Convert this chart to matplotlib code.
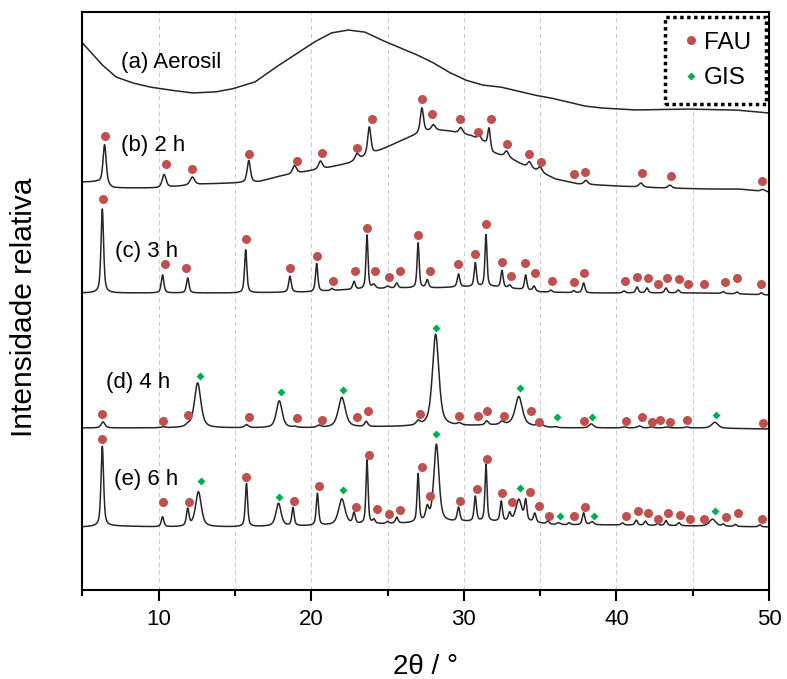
"""
DRX das amostras: Aerosil e produtos de 2 h a 6 h (FAU / GIS)
"""

import numpy as np
import matplotlib
matplotlib.use('Agg')  # sem display
import matplotlib.pyplot as plt
from matplotlib.lines import Line2D
from matplotlib.ticker import MultipleLocator

plt.rcParams['font.family'] = ['Liberation Sans', 'DejaVu Sans']

# ---- (a) Aerosil: curva amorfa (2theta, intensidade)
a_theta = [5.0, 5.6, 6.3, 7.2, 8.3, 9.4, 10.7, 12.2, 13.7, 14.8, 16.3, 17.6, 18.9,
           20.2, 21.3, 22.4, 23.5, 24.6, 25.7, 26.8, 27.9, 29.0, 30.1, 31.2, 32.4,
           33.5, 34.6, 35.7, 36.8, 37.9, 39.0, 41.2, 44.5, 47.8, 50.0]
a_int = [547, 537, 525, 513, 507, 503, 500, 497, 498, 501, 508, 522, 535,
         548, 557, 560, 558, 550, 543, 536, 528, 518, 510, 505, 503,
         499, 495, 492, 488, 484, 482, 480, 481, 480, 477]

# ---- (b) 2 h
b_base_theta = [5.0, 6.0, 7.0, 10.0, 13.0, 15.0, 16.5, 18.0, 19.5, 21.0, 22.5, 23.5,
                25.0, 26.0, 27.0, 28.0, 29.0, 30.5, 31.0, 31.4, 31.9, 33.0, 34.0,
                35.0, 36.0, 37.5, 40.0, 43.0, 46.0, 48.0, 50.0]
b_base_int = [408, 408, 402, 402, 406, 407, 408, 414, 418, 422, 427, 433,
              443, 450, 456, 460, 459, 454, 450, 447, 437, 432, 424,
              418, 411, 406, 404, 402, 401, 401, 398]
b_peak_pos = [6.45, 10.35, 12.2, 15.9, 18.9, 20.6, 23.0, 23.8, 27.25, 28.0, 29.8,
              31.0, 31.65, 32.8, 34.3, 35.0, 38.0, 41.6, 43.5, 49.6]
b_peak_h = [40, 13, 8, 22, 8, 8, 6, 28, 25, 5, 6, 5, 20, 6, 6, 5, 4, 4, 3, 2]
b_peak_w = [0.25, 0.3, 0.35, 0.25, 0.3, 0.3, 0.3, 0.25, 0.25, 0.3, 0.3,
            0.25, 0.2, 0.3, 0.3, 0.3, 0.3, 0.3, 0.3, 0.3]
b_fau_theta = [6.45, 10.45, 12.15, 15.9, 19.05, 20.7, 23.0, 24.0, 27.25, 27.9, 29.75,
               30.9, 31.8, 32.8, 34.3, 35.05, 37.2, 37.95, 41.7, 43.6, 49.55]
b_fau_int = [454, 426, 421, 436, 429, 437, 442, 471, 491, 476, 471,
             458, 471, 446, 436, 428, 416, 418, 417, 414, 409]

# ---- (c) 3 h
c_base_theta = [5, 6, 8, 15, 20, 22, 24, 26, 28, 30, 32, 33.5, 35, 38, 42, 46, 50]
c_base_int = [297, 297, 297, 297, 298, 300, 301, 302, 302, 303, 303, 301, 298,
              297, 297, 297, 295]
c_peak_pos = [6.3, 10.25, 11.9, 15.7, 18.6, 20.35, 21.35, 22.8, 23.65, 24.1, 25.0,
              25.6, 27.0, 27.6, 29.65, 30.75, 31.45, 32.5, 33.0, 34.05, 34.6, 35.7,
              37.2, 37.85, 40.5, 41.35, 42.0, 43.25, 44.05, 47.0, 47.9, 49.5]
c_peak_h = [84, 18, 15, 43, 16, 28, 2, 8, 54, 4, 2, 5, 45, 8, 13, 24, 52, 17, 3,
            15, 5, 2, 2, 10, 2, 6, 5, 5, 3, 2, 2, 2]
c_peak_w = [0.2, 0.2, 0.2, 0.18, 0.2, 0.18, 0.2, 0.2, 0.16, 0.25, 0.3, 0.2, 0.16,
            0.2, 0.2, 0.18, 0.16, 0.18, 0.2, 0.18, 0.2, 0.2, 0.2, 0.2, 0.2, 0.2,
            0.2, 0.2, 0.2, 0.2, 0.2, 0.2]
c_fau_theta = [6.35, 10.4, 11.8, 15.75, 18.6, 20.4, 21.4, 22.85, 23.65, 24.2, 25.1,
               25.8, 27.0, 27.8, 29.6, 30.7, 31.45, 32.5, 33.1, 34.0, 34.65, 35.75,
               37.2, 37.9, 40.55, 41.35, 42.05, 42.75, 43.3, 44.1, 44.7, 45.75,
               47.1, 47.9, 49.5]
c_fau_int = [391, 326, 322, 351, 322, 334, 309, 319, 362, 319, 313,
             319, 355, 319, 326, 336, 366, 328, 314, 327, 317, 309,
             308, 317, 309, 313, 312, 306, 312, 311, 306, 306,
             308, 312, 306]

# ---- (d) 4 h
d_base_theta = [5, 10, 20, 24, 30, 33, 36, 40, 45, 50]
d_base_int = [162, 162, 162, 163, 164, 165, 162, 162, 162, 161]
d_peak_pos = [6.35, 10.3, 11.9, 12.55, 15.75, 17.9, 18.9, 20.5, 22.0, 23.6, 27.0,
              28.15, 29.7, 31.5, 32.5, 33.6, 35.0, 36.0, 38.35, 40.5, 41.5, 42.3,
              43.3, 44.6, 46.45]
d_peak_h = [6, 1, 2, 45, 3, 27, 1, 2, 30, 5, 4, 92, 2, 4, 3, 29, 3, 1, 4, 1, 2,
            1, 1, 1, 6]
d_peak_w = [0.3, 0.3, 0.3, 0.5, 0.3, 0.45, 0.3, 0.3, 0.55, 0.25, 0.3, 0.5, 0.3,
            0.25, 0.3, 0.55, 0.4, 0.3, 0.35, 0.3, 0.3, 0.3, 0.3, 0.3, 0.5]
d_fau_theta = [6.3, 10.3, 11.9, 15.9, 19.05, 20.7, 23.0, 23.7, 27.1, 29.65, 30.9,
               31.5, 32.6, 34.4, 34.9, 37.9, 40.6, 41.7, 42.3, 42.85, 43.5, 44.6,
               49.6]
d_fau_int = [176, 169, 175, 173, 172, 170, 173, 179, 176, 174, 174,
             179, 174, 179, 168, 169, 169, 173, 168, 170, 168, 170, 167]
d_gis_theta = [12.7, 18.0, 22.05, 28.2, 33.7, 36.1, 38.4, 46.5]
d_gis_int = [214, 198, 200, 262, 202, 173, 173, 175]

# ---- (e) 6 h
e_base_theta = [5, 7, 10, 15, 20, 25, 30, 34, 36, 40, 45, 50]
e_base_int = [63, 64, 63, 63, 64, 66, 68, 68, 65, 65, 64, 63]
e_peak_pos = [6.3, 10.25, 11.9, 12.6, 15.75, 17.85, 18.8, 20.4, 22.0, 22.8, 23.65,
              24.1, 25.0, 25.6, 27.0, 27.6, 28.2, 29.65, 30.75, 31.45, 32.45, 33.0,
              33.6, 34.05, 34.65, 35.5, 36.2, 36.9, 37.85, 38.4, 40.4, 41.3, 41.9,
              42.7, 43.25, 44.1, 46.3, 47.0, 47.8, 49.4]
e_peak_h = [80, 10, 17, 35, 43, 23, 18, 32, 26, 11, 64, 4, 2, 6, 48, 13, 78, 14,
            25, 57, 20, 8, 22, 20, 9, 3, 2, 2, 12, 3, 2, 5, 4, 2, 5, 3, 7, 2, 2, 2]
e_peak_w = [0.2, 0.2, 0.2, 0.45, 0.18, 0.4, 0.18, 0.18, 0.5, 0.2, 0.16,
            0.2, 0.2, 0.2, 0.16, 0.25, 0.4, 0.2, 0.18, 0.16, 0.18, 0.2,
            0.45, 0.18, 0.2, 0.2, 0.3, 0.2, 0.2, 0.3, 0.2, 0.2, 0.2,
            0.2, 0.2, 0.2, 0.5, 0.2, 0.2, 0.2]
e_fau_theta = [6.3, 10.25, 12.0, 15.75, 18.85, 20.5, 22.9, 23.8, 24.3, 25.1, 25.8,
               27.25, 27.8, 29.75, 30.85, 31.5, 32.5, 33.15, 34.35, 34.9, 35.6,
               37.2, 37.95, 40.6, 41.4, 42.1, 42.75, 43.4, 44.2, 44.8, 45.75, 47.2,
               47.95, 49.55]
e_fau_int = [151, 88, 88, 113, 89, 104, 83, 135, 81, 76, 80,
             123, 94, 89, 101, 131, 97, 88, 98, 84, 74,
             74, 83, 74, 79, 77, 71, 77, 75, 71, 71, 73,
             77, 71]
e_gis_theta = [12.75, 17.85, 22.05, 28.2, 33.7, 36.3, 38.5, 46.45]
e_gis_int = [109, 93, 100, 156, 102, 74, 74, 79]

labels = ['(a) Aerosil', '(b) 2 h', '(c) 3 h', '(d) 4 h', '(e) 6 h']
label_theta = [7.5, 7.5, 7.1, 6.55, 7.05]
label_int = [527, 444, 338, 207, 110]

FAU_COLOR = '#c0504d'
GIS_COLOR = '#00b050'
LINE_COLOR = '#262626'


def profile(theta, base_x, base_y, pos, height, width, eta=0.6):
    """linha de base + picos pseudo-Voigt"""
    y = np.interp(theta, base_x, base_y)
    for x0, h, w in zip(pos, height, width):
        d = (theta - x0) / (w / 2)
        y = y + h * (eta / (1 + d ** 2) + (1 - eta) * np.exp(-np.log(2) * d ** 2))
    return y


theta = np.linspace(5, 50, 4501)

fig = plt.figure(figsize=(7.87, 6.79), dpi=100)
ax = fig.add_axes([0.1048, 0.1311, 0.8723, 0.8505])

ax.plot(theta, np.interp(theta, a_theta, a_int), color=LINE_COLOR, lw=1.1)
ax.plot(theta, profile(theta, b_base_theta, b_base_int, b_peak_pos, b_peak_h, b_peak_w),
        color=LINE_COLOR, lw=1.1)
ax.plot(theta, profile(theta, c_base_theta, c_base_int, c_peak_pos, c_peak_h, c_peak_w),
        color=LINE_COLOR, lw=1.1)
ax.plot(theta, profile(theta, d_base_theta, d_base_int, d_peak_pos, d_peak_h, d_peak_w),
        color=LINE_COLOR, lw=1.1)
ax.plot(theta, profile(theta, e_base_theta, e_base_int, e_peak_pos, e_peak_h, e_peak_w),
        color=LINE_COLOR, lw=1.1)

fau_kw = dict(ls='none', marker='o', ms=6.5, color=FAU_COLOR, mec='none', zorder=3)
gis_kw = dict(ls='none', marker='D', ms=4.3, color=GIS_COLOR, mec='none', zorder=3)
ax.plot(b_fau_theta, b_fau_int, **fau_kw)
ax.plot(c_fau_theta, c_fau_int, **fau_kw)
ax.plot(d_fau_theta, d_fau_int, **fau_kw)
ax.plot(d_gis_theta, d_gis_int, **gis_kw)
ax.plot(e_fau_theta, e_fau_int, **fau_kw)
ax.plot(e_gis_theta, e_gis_int, **gis_kw)

for txt, tx, ty in zip(labels, label_theta, label_int):
    ax.text(tx, ty, txt, fontsize=16, ha='left', va='center')

ax.set_xlim(5, 50)
ax.set_ylim(0, 577.5)
ax.xaxis.set_major_locator(MultipleLocator(10))
ax.xaxis.set_minor_locator(MultipleLocator(5))
ax.set_yticks([])
ax.tick_params(axis='x', which='major', direction='out', length=8, width=1.5,
               labelsize=16, pad=6)
ax.tick_params(axis='x', which='minor', direction='out', length=4, width=1.5)
ax.xaxis.grid(True, which='both', color='#cfcfcf', linestyle=(0, (4, 3)), linewidth=0.8)
ax.set_axisbelow(True)
for sp in ax.spines.values():
    sp.set_linewidth(1.5)

ax.set_xlabel('2θ / °', fontsize=20, labelpad=17)
ax.set_ylabel('Intensidade relativa', fontsize=21.5, va='center')
ax.yaxis.set_label_coords(-0.085, 0.49)

handles = [Line2D([], [], **{**fau_kw, 'zorder': 2}), Line2D([], [], **{**gis_kw, 'zorder': 2})]
leg = ax.legend(handles, ['FAU', 'GIS'], loc='upper right', bbox_to_anchor=(0.9956, 0.992),
                borderaxespad=0, fancybox=False, fontsize=17.5, handletextpad=0.1,
                handlelength=0.9, labelspacing=0.55, borderpad=0.6, framealpha=1)
frame = leg.get_frame()
frame.set_edgecolor('black')
frame.set_linestyle((0, (1, 1)))
frame.set_linewidth(2.5)

fig.savefig('out.png', dpi=100)
